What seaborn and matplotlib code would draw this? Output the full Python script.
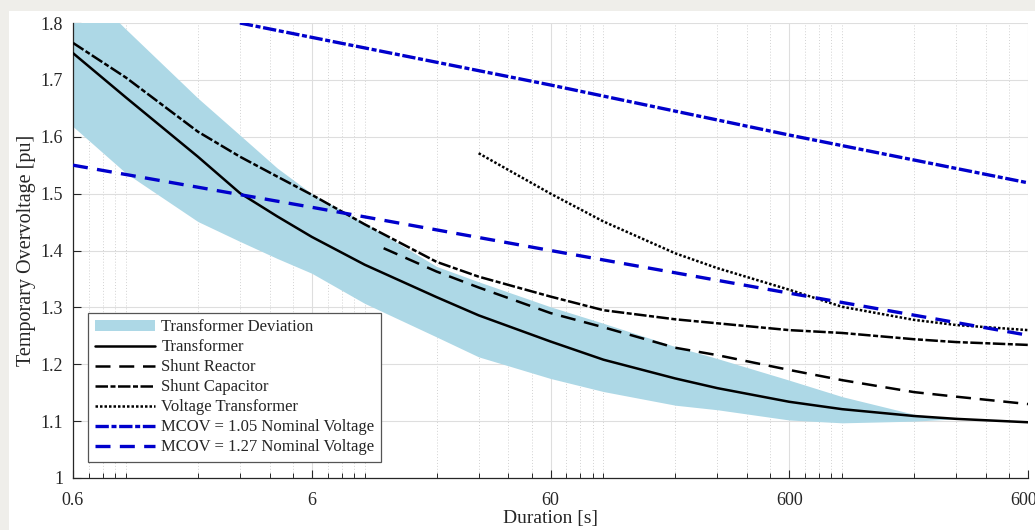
import numpy as np
import matplotlib
matplotlib.use('Agg')
import matplotlib.pyplot as plt
import matplotlib.ticker as mticker
from matplotlib.patches import Rectangle, Patch
import seaborn as sns

# Durations [s] and curve values
t_all = [0.6, 1, 2, 3, 4.3, 6, 10, 20, 30, 60, 100, 200, 300, 600, 1000, 2000, 3000, 6000]
transformer = [1.747, 1.669, 1.565, 1.501, 1.460, 1.424, 1.375, 1.318, 1.286, 1.240,
               1.208, 1.175, 1.158, 1.134, 1.121, 1.109, 1.104, 1.098]
band_upper = [1.880, 1.789, 1.668, 1.603, 1.545, 1.500, 1.448, 1.372, 1.345, 1.301,
              1.272, 1.231, 1.210, 1.172, 1.143, 1.112, 1.104, 1.098]
band_lower = [1.618, 1.536, 1.451, 1.416, 1.386, 1.360, 1.307, 1.248, 1.213, 1.175,
              1.152, 1.128, 1.120, 1.102, 1.097, 1.100, 1.104, 1.098]
shunt_capacitor = [1.765, 1.704, 1.609, 1.565, 1.530, 1.498, 1.446, 1.380, 1.354, 1.319,
                   1.295, 1.279, 1.272, 1.260, 1.255, 1.244, 1.239, 1.234]

t_reactor = [12, 20, 30, 60, 100, 200, 300, 600, 1000, 2000, 3000, 6000]
shunt_reactor = [1.404, 1.363, 1.335, 1.290, 1.265, 1.229, 1.216, 1.190, 1.172, 1.151, 1.143, 1.130]

t_vt = [30, 60, 100, 200, 300, 600, 1000, 2000, 3000, 6000]
voltage_transformer = [1.571, 1.500, 1.451, 1.395, 1.369, 1.331, 1.301, 1.278, 1.269, 1.260]

t_mcov105 = [3, 60, 600, 6000]
mcov_105 = [1.800, 1.691, 1.603, 1.519]

t_mcov127 = [0.6, 6, 60, 600, 6000]
mcov_127 = [1.550, 1.476, 1.400, 1.325, 1.251]

x_ticks = [0.6, 6, 60, 600, 6000]

sns.set_theme(style="white")
plt.rcParams['font.family'] = ['Liberation Serif', 'DejaVu Serif']

fig = plt.figure(figsize=(10.35, 5.30), dpi=100, facecolor='#efeeea')
fig.patches.append(Rectangle((9 / 1035, 0), 1, 519 / 530, transform=fig.transFigure,
                             facecolor='white', edgecolor='none', zorder=-1))
ax = fig.add_axes([73 / 1035, 52 / 530, 955 / 1035, 455 / 530])
ax.set_facecolor('white')

blue = '#0000cc'
ax.fill_between(t_all, band_lower, band_upper, color='lightblue', lw=0, zorder=1.5)
sns.lineplot(x=t_all, y=transformer, ax=ax, color='black', lw=1.8, linestyle='-', zorder=3)
sns.lineplot(x=t_reactor, y=shunt_reactor, ax=ax, color='black', lw=1.8,
             linestyle=(0, (6, 3.5)), zorder=3)
sns.lineplot(x=t_all, y=shunt_capacitor, ax=ax, color='black', lw=1.8,
             linestyle=(0, (5, 1, 2, 1)), zorder=3)
sns.lineplot(x=t_vt, y=voltage_transformer, ax=ax, color='black', lw=1.8,
             linestyle=(0, (1, 0.8)), zorder=3)
sns.lineplot(x=t_mcov105, y=mcov_105, ax=ax, color=blue, lw=2.4,
             linestyle=(0, (4, 0.8, 1.5, 0.8)), zorder=3)
sns.lineplot(x=t_mcov127, y=mcov_127, ax=ax, color=blue, lw=2.4,
             linestyle=(0, (4.5, 2.8)), zorder=3)

ax.set_xscale('log')
ax.set_xlim(0.6, 6000)
ax.set_ylim(1, 1.8)
ax.xaxis.set_major_locator(mticker.FixedLocator(x_ticks))
ax.xaxis.set_major_formatter(mticker.FuncFormatter(lambda v, p: '%g' % v))
ax.xaxis.set_minor_locator(mticker.LogLocator(base=10, subs=np.arange(1, 10), numticks=50))
ax.xaxis.set_minor_formatter(mticker.NullFormatter())
ax.yaxis.set_major_locator(mticker.MultipleLocator(0.1))
ax.yaxis.set_major_formatter(mticker.FuncFormatter(lambda v, p: '%g' % round(v, 2)))

ax.grid(which='major', color='#dedede', lw=0.8, ls='-')
ax.grid(which='minor', axis='x', color='#d2d2d2', lw=0.7, ls=(0, (1, 2)))
ax.set_axisbelow(True)

for s in ['top', 'right']:
    ax.spines[s].set_visible(False)
for s in ['left', 'bottom']:
    ax.spines[s].set_color('#262626')
    ax.spines[s].set_linewidth(0.9)

ax.tick_params(which='both', direction='in', bottom=True, left=True, color='#262626',
               labelcolor='#262626')
ax.tick_params(which='major', length=6, width=0.8, labelsize=13)
ax.tick_params(axis='x', which='major', pad=10)
ax.tick_params(axis='y', which='major', pad=7)
ax.tick_params(which='minor', length=3.5, width=0.7)

ax.set_xlabel('Duration [s]', fontsize=14, color='#262626', labelpad=0.5)
ax.set_ylabel('Temporary Overvoltage [pu]', fontsize=14.5, color='#262626', labelpad=3)

lines = ax.get_lines()
handles = [Patch(facecolor='lightblue', edgecolor='none')] + list(lines[:6])
labels = ['Transformer Deviation', 'Transformer', 'Shunt Reactor', 'Shunt Capacitor',
          'Voltage Transformer', 'MCOV = 1.05 Nominal Voltage', 'MCOV = 1.27 Nominal Voltage']
leg = ax.legend(handles, labels, loc='lower left', bbox_to_anchor=(0.0157, 0.035),
                borderaxespad=0, fontsize=12, handlelength=3.6, handletextpad=0.4,
                labelspacing=0.24, borderpad=0.4, fancybox=False, framealpha=1)
leg.get_frame().set_edgecolor('#555555')
leg.get_frame().set_linewidth(0.9)
leg.set_zorder(5)

fig.savefig('out.png', dpi=100, facecolor=fig.get_facecolor())
